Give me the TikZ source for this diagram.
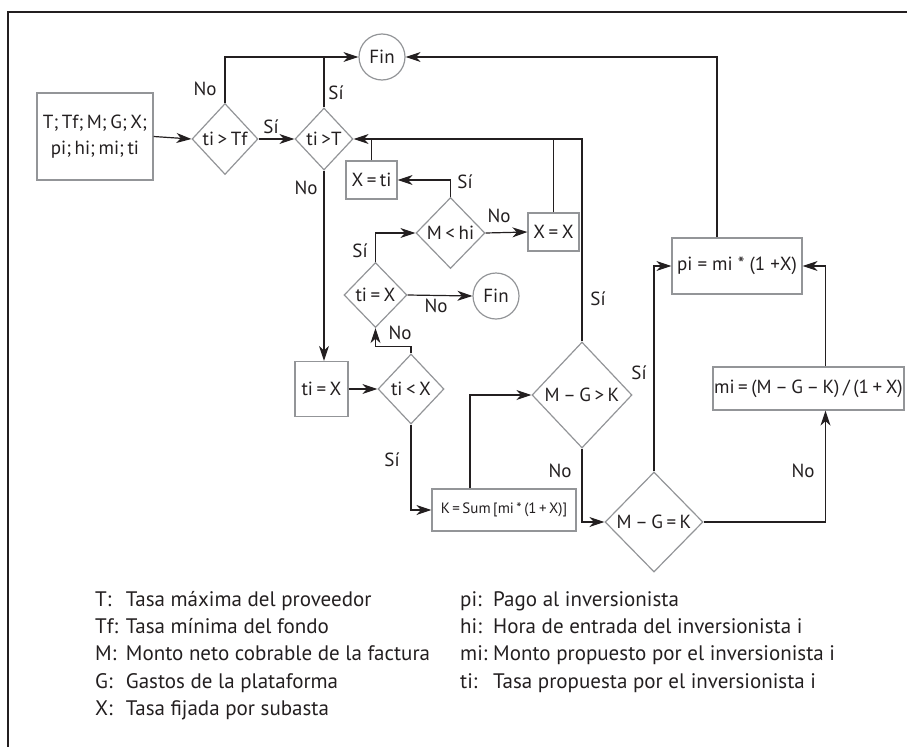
\documentclass[tikz,border=0pt]{standalone}
\usepackage{fontspec}
\setmainfont{PT Sans}
\newfontfamily\diafont{PT Sans}[WordSpace=0.7]
\usetikzlibrary{shapes.geometric,arrows.meta,calc}
\definecolor{ink}{HTML}{231F20}
\definecolor{edge}{HTML}{939598}
\newcommand{\zw}[1]{\makebox[0pt]{#1}}
\begin{document}
\begin{tikzpicture}[x=1pt,y=-1pt,
  font=\diafont\fontsize{19}{23}\selectfont, text=ink,
  box/.style={rectangle, draw=edge, line width=1.2pt, inner sep=0pt},
  dia/.style={diamond, draw=edge, line width=1.2pt, inner sep=0pt, aspect=1},
  endc/.style={circle, draw=edge, line width=1.2pt, inner sep=0pt, minimum size=46pt},
  link/.style={draw=ink, line width=1.2pt},
  arr/.style={link, -{Stealth[length=15pt,width=10pt,inset=4.5pt]}},
  lbl/.style={inner sep=0pt},
  legend/.style={anchor=base west, inner sep=0pt, font=\fontsize{21}{24}\selectfont}]
\useasboundingbox (0,0) rectangle (907,747);

% outer frame (open on the right and bottom)
\draw[draw=ink, line width=1.5pt] (907,12) -- (8,12) -- (8,747);

% shapes of the flow chart
\node[box, minimum width=116, minimum height=87, align=center] (in) at (95,136.5)
  {\zw{T; Tf; M; G; X;}\\[3pt]\zw{pi; hi; mi; ti}};
\node[dia, minimum width=66, minimum height=71] (d1) at (225,139) {\zw{ti > Tf}};
\node[dia, minimum width=58, minimum height=62] (d2) at (324,139) {\zw{ti >T}};
\node[endc] (fin1) at (382,57) {Fin};
\node[box, minimum width=51, minimum height=38] (xti) at (371.5,180) {\zw{X = ti}};
\node[dia, minimum width=69, minimum height=71] (mhi) at (450.5,233) {\zw{M < hi}};
\node[box, minimum width=51, minimum height=38] (xx) at (553.5,232) {\zw{X = X}};
\node[dia, minimum width=63, minimum height=65] (tix) at (375.5,295) {\zw{ti = X}};
\node[endc] (fin2) at (496,296) {Fin};
\node[box, minimum width=53, minimum height=55] (tibox) at (321.5,389) {\zw{ti = X}};
\node[dia, minimum width=66, minimum height=70] (tlx) at (411,389) {\zw{ti < X}};
\node[box, minimum width=144, minimum height=42] (kbox) at (504,510)
  {\zw{\fontsize{15}{18}\selectfont K\,=\,Sum\,[mi\,*\,(1\,+\,X)]}};
\node[dia, minimum width=100, minimum height=106] (mgk1) at (582,395) {\zw{M – G > K}};
\node[dia, minimum width=98, minimum height=100] (mgk2) at (654,522) {\zw{M – G = K}};
\node[box, minimum width=130, minimum height=56] (pi) at (737,266)
  {\zw{\rmfamily pi = mi * (1 +X)}};
\node[box, minimum width=191, minimum height=43] (mi) at (808.5,388.5)
  {\zw{mi = (M – G – K) / (1 + X)}};

% connectors
\draw[arr] (in.east) -- (d1.west);
\draw[arr] (d1.east) -- (d2.west);
\draw[arr] (d1.north) |- (fin1.west);
\draw[link] (d2.north) -- (d2.north |- fin1.west);
\draw[arr] (d2.south) -- (d2.south |- tibox.north);
\draw[arr] (tibox.east) -- (tlx.west);
\draw[arr] (tlx.north) -- ++(0,-7) -| (tix.south);
\draw[arr] (tix.north) |- (mhi.west);
\draw[arr] (tix.east) -- (fin2.west);
\draw[arr] (mhi.north) |- (xti.east);
\draw[arr] (mhi.east) -- (xx.west);
\draw[link] (xx.north) -- (xx.north |- d2.east);
\draw[link] (xti.north) -- (xti.north |- d2.east);
\draw[arr] (mgk1.north) |- (d2.east);
\draw[arr] (tlx.south) |- (kbox.west);
\draw[arr] ($(kbox.north)+(-34,0)$) |- (mgk1.west);
\draw[arr] (mgk1.south) |- (mgk2.west);
\draw[arr] (mgk2.north) |- (pi.west);
\draw[arr] (mgk2.east) -| ($(mi.south)+(17,0)$);
\draw[arr] ($(mi.north)+(17,0)$) |- (pi.east);
\draw[arr] ($(pi.north)+(-20,0)$) |- (fin1.east);

% branch labels
\node[lbl] (l1) at (205,89) {No};
\node[lbl] (l2) at (271,127) {Sí};
\node[lbl] (l3) at (336,93) {Sí};
\node[lbl] (l4) at (306,188) {No};
\node[lbl] (l5) at (465,182) {Sí};
\node[lbl] (l6) at (499,216) {No};
\node[lbl] (l7) at (360,251) {Sí};
\node[lbl] (l8) at (436,306) {No};
\node[lbl] (l9) at (400,333) {No};
\node[lbl] (l10) at (598,299) {Sí};
\node[lbl] (l11) at (392,460) {Sí};
\node[lbl] (l12) at (560,471) {No};
\node[lbl] (l13) at (639,373) {Sí};
\node[lbl] (l14) at (803,471) {No};

% legend
\node[legend] (k1) at (95,606.7) {T:};
\node[legend] (v1) at (125.7,606.7) {Tasa máxima del proveedor};
\node[legend] (k2) at (95,633.3) {Tf:};
\node[legend] (v2) at (125.7,633.3) {Tasa mínima del fondo};
\node[legend] (k3) at (95,660.7) {M:};
\node[legend] (v3) at (125.7,660.7) {Monto neto cobrable de la factura};
\node[legend] (k4) at (95,688.3) {G:};
\node[legend] (v4) at (125.7,688.3) {Gastos de la plataforma};
\node[legend] (k5) at (95,715.7) {X:};
\node[legend] (v5) at (125.7,715.7) {Tasa fijada por subasta};
\node[legend] (k6) at (460,606.7) {pi:};
\node[legend] (v6) at (493,606.7) {Pago al inversionista};
\node[legend] (k7) at (460,633.3) {hi:};
\node[legend] (v7) at (493,633.3) {Hora de entrada del inversionista i};
\node[legend] (k8) at (460,660.7) {mi:};
\node[legend] (v8) at (493,660.7) {Monto propuesto por el inversionista i};
\node[legend] (k9) at (460,688.3) {ti:};
\node[legend] (v9) at (493,688.3) {Tasa propuesta por el inversionista i};
\end{tikzpicture}
\end{document}
